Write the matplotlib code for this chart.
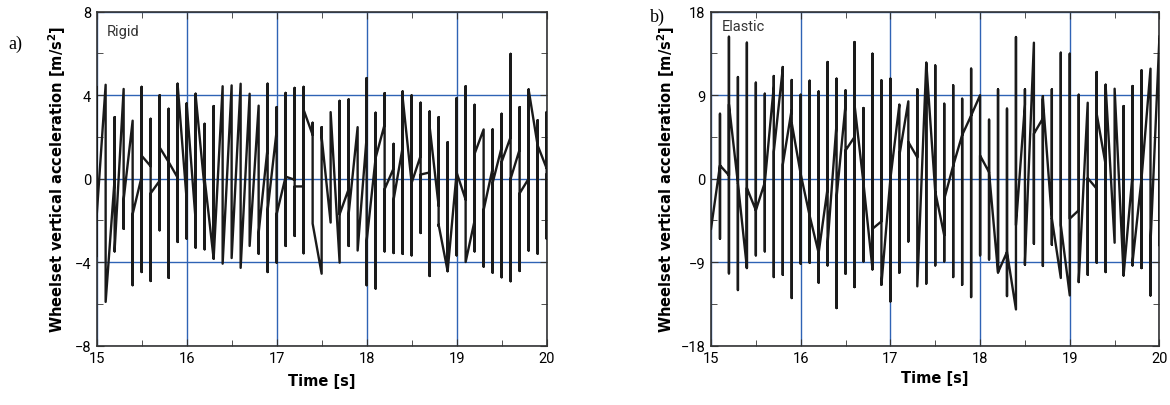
import numpy as np
import matplotlib
matplotlib.use('Agg')
import matplotlib.pyplot as plt
from matplotlib.ticker import MultipleLocator

# sample times [s]
time = [15.0, 15.1, 15.2, 15.3, 15.4, 15.5, 15.6, 15.7, 15.8, 15.9,
        16.0, 16.1, 16.2, 16.3, 16.4, 16.5, 16.6, 16.7, 16.8, 16.9,
        17.0, 17.1, 17.2, 17.3, 17.4, 17.5, 17.6, 17.7, 17.8, 17.9,
        18.0, 18.1, 18.2, 18.3, 18.4, 18.5, 18.6, 18.7, 18.8, 18.9,
        19.0, 19.1, 19.2, 19.3, 19.4, 19.5, 19.6, 19.7, 19.8, 19.9,
        20.0]

# a) rigid track: per-sample max / min and the values where the trace enters / leaves
hi_a = [4.4, 4.5, 2.95, 4.3, 2.78, 4.4, 2.87, 4.0, 3.35, 4.55,
        3.6, 4.07, 2.63, 3.48, 4.43, 4.47, 4.55, 4.07, 3.5, 4.55,
        3.43, 4.11, 4.35, 4.4, 2.68, 2.47, 3.19, 3.73, 3.8, 2.47,
        4.82, 3.16, 4.1, 1.67, 4.18, 3.99, 3.64, 3.22, 2.95, 1.75,
        3.86, 4.43, 3.54, 2.36, 2.36, 3.11, 5.98, 3.43, 4.27, 2.8,
        3.19]
lo_a = [-3.7, -5.9, -3.48, -2.4, -5.1, -4.47, -4.9, -2.47, -4.75, -3.03,
        -2.87, -3.3, -3.38, -3.83, -4.07, -3.8, -4.27, -3.22, -3.59, -4.47,
        -4.02, -3.22, -2.74, -3.57, -2.15, -4.55, -2.1, -4.02, -3.22, -3.44,
        -5.1, -5.26, -3.48, -3.56, -3.6, -3.67, -2.6, -4.66, -2.26, -4.43,
        -3.67, -3.99, -3.48, -4.21, -4.5, -4.72, -4.91, -4.42, -3.44, -3.59,
        -2.87]
enter_a = [-3.7, 4.5, 0.0, 4.3, 2.78, 0.1, 0.6, -0.1, 0.8, 0.05,
           -1.0, -2.0, -0.5, -3.83, 4.43, 4.47, 4.55, 4.07, 3.5, 1.5,
           2.3, 0.1, -0.05, -0.37, 2.1, -4.55, -2.1, -4.02, -0.5, 2.47,
           2.0, 1.0, 2.6, 0.5, 1.5, -0.2, 1.1, 0.3, -1.3, -4.43,
           0.3, -1.0, -2.0, 2.36, 0.5, 1.5, 2.0, 1.4, 0.0, 1.6,
           0.5]
exit_a = [-1.8, -5.9, -3.4, -1.0, -1.7, 1.1, -0.7, 1.5, 0.8, 4.5,
          3.6, 4.0, 0.0, -3.83, -4.07, -3.8, -4.27, -3.22, -2.6, -1.5,
          -1.7, 0.1, -0.37, 3.3, -2.15, 2.0, 3.19, -1.7, -1.7, -3.44,
          -3.0, 1.0, -0.5, -1.0, 3.9, -0.2, 0.2, 2.5, -2.2, -4.43,
          0.3, -3.99, 1.2, -1.5, -0.2, 0.8, 0.0, -0.7, 4.27, 1.6,
          0.2]

# b) elastic track
hi_b = [-5.4, 7.0, 15.3, 10.96, 14.66, 10.35, 9.16, 11.07, 12.04, 10.64,
        9.05, 10.56, 9.4, 12.58, 10.78, 9.52, 14.73, 7.62, 13.47, 10.6,
        10.78, 7.98, 8.34, 9.63, 12.5, 12.2, 8.08, 10.06, 8.62, 11.86,
        8.9, 6.36, 9.63, 7.55, 15.27, 9.63, 14.66, 8.9, 9.63, 13.58,
        13.47, 9.05, 8.19, 11.5, 10.13, 9.7, 7.83, 9.99, 11.68, 11.86,
        15.38]
lo_b = [-5.4, -6.47, -10.2, -12.0, -9.63, -8.26, -7.83, -10.6, -10.35, -12.86,
        -9.16, -9.05, -11.2, -9.34, -13.94, -10.24, -11.68, -8.91, -9.77, -11.43,
        -13.22, -10.13, -6.76, -11.6, -11.3, -9.34, -8.91, -10.6, -11.43, -12.76,
        -8.26, -8.7, -10.06, -12.65, -14.09, -9.27, -7.0, -9.4, -7.11, -10.7,
        -12.58, -11.14, -10.35, -9.05, -10.06, -6.9, -10.42, -9.34, -9.63, -12.58,
        -7.19]
enter_b = [-5.4, 1.44, 0.36, -0.5, -9.6, -3.4, -0.4, 10.0, 11.9, 7.5,
           0.5, -4.0, -8.0, -1.0, 6.0, 8.0, 4.5, -0.5, -9.7, -4.6,
           0.0, 8.0, 8.3, 2.3, 12.5, -1.4, -6.1, 1.4, 4.7, 6.8,
           9.0, 0.7, -10.1, -7.9, -14.09, 8.0, 14.6, 6.5, -4.3, -10.7,
           -12.58, -3.4, 8.19, -1.08, 1.5, -6.9, -10.4, 0.5, 0.0, 11.86,
           15.27]
exit_b = [-5.4, 1.44, 8.0, -0.5, -1.0, -3.4, -0.4, 2.9, 1.5, 6.0,
          0.5, -4.0, -8.0, -7.0, -2.0, 3.05, 8.0, -0.5, -5.4, -11.4,
          0.0, 2.5, 3.95, -11.6, 12.5, -1.4, -2.2, 1.4, 4.7, 6.8,
          2.5, 0.7, -10.1, -7.9, -5.0, -9.0, 4.85, 8.6, -4.3, -5.0,
          -4.3, -11.0, 0.07, 7.0, 10.0, 9.7, -10.4, -9.0, 0.0, -7.0,
          15.0]


def trace(t, enter, hi, lo, leave):
    xs, ys = [], []
    for ti, a, h, l, b in zip(t, enter, hi, lo, leave):
        xs += [ti, ti, ti, ti]
        ys += [a, h, l, b]
    return xs, ys


def style(ax, lim, major, minor, label, label_y, ylab_x, xlab_y):
    ax.set_xlim(15, 20)
    ax.xaxis.set_major_locator(MultipleLocator(1))
    ax.xaxis.set_minor_locator(MultipleLocator(0.5))
    ax.yaxis.set_minor_locator(MultipleLocator(minor))
    ticks = np.arange(-lim, lim + 1, major)
    ax.set_yticks(ticks)
    ax.set_yticklabels([f'{int(v)}'.replace('-', '\u2212') for v in ticks])
    ax.set_ylim(-lim, lim)
    ax.grid(True, which='major', color='#2f63b5', lw=1.0)
    ax.tick_params(which='both', direction='in', top=True, right=True,
                   labelsize=10.5, pad=4, color='#333333')
    ax.tick_params(which='major', length=5)
    ax.tick_params(which='minor', length=4)
    for sp in ax.spines.values():
        sp.set_color('#333333')
        sp.set_linewidth(1.2)
    ax.set_xlabel('Time [s]', fontsize=10.5, fontweight='bold',
                  family='DejaVu Sans')
    ax.set_ylabel('Wheelset vertical acceleration [m/s$^\\mathbf{2}$]',
                  fontsize=10.5, fontweight='bold', family='DejaVu Sans')
    ax.yaxis.set_label_coords(ylab_x, 0.5)
    ax.xaxis.set_label_coords(0.5, xlab_y)
    ax.text(0.023, label_y, label, transform=ax.transAxes, fontsize=10.5,
            color='#333333', va='center', ha='left')


plt.rcParams['font.family'] = ['Roboto', 'DejaVu Sans']
plt.rcParams['mathtext.fontset'] = 'dejavusans'

fig = plt.figure(figsize=(11.7, 4.06), dpi=100)
ax1 = fig.add_axes([0.0826, 0.146, 0.3846, 0.8227])
ax2 = fig.add_axes([0.6077, 0.146, 0.3833, 0.8227])

xs, ys = trace(time, enter_a, hi_a, lo_a, exit_a)
ax1.plot(xs, ys, color='#1a1a1a', lw=1.7, zorder=3)
style(ax1, 8, 4, 2, 'Rigid', 0.942, -0.064, -0.082)

xs, ys = trace(time, enter_b, hi_b, lo_b, exit_b)
ax2.plot(xs, ys, color='#1a1a1a', lw=1.7, zorder=3)
style(ax2, 18, 9, 4.5, 'Elastic', 0.957, -0.076, -0.073)

fig.text(0.007, 0.892, 'a)', fontsize=13, family='Liberation Serif', va='center')
fig.text(0.5556, 0.958, 'b)', fontsize=13, family='Liberation Serif', va='center')

fig.savefig('out.png', dpi=100)
